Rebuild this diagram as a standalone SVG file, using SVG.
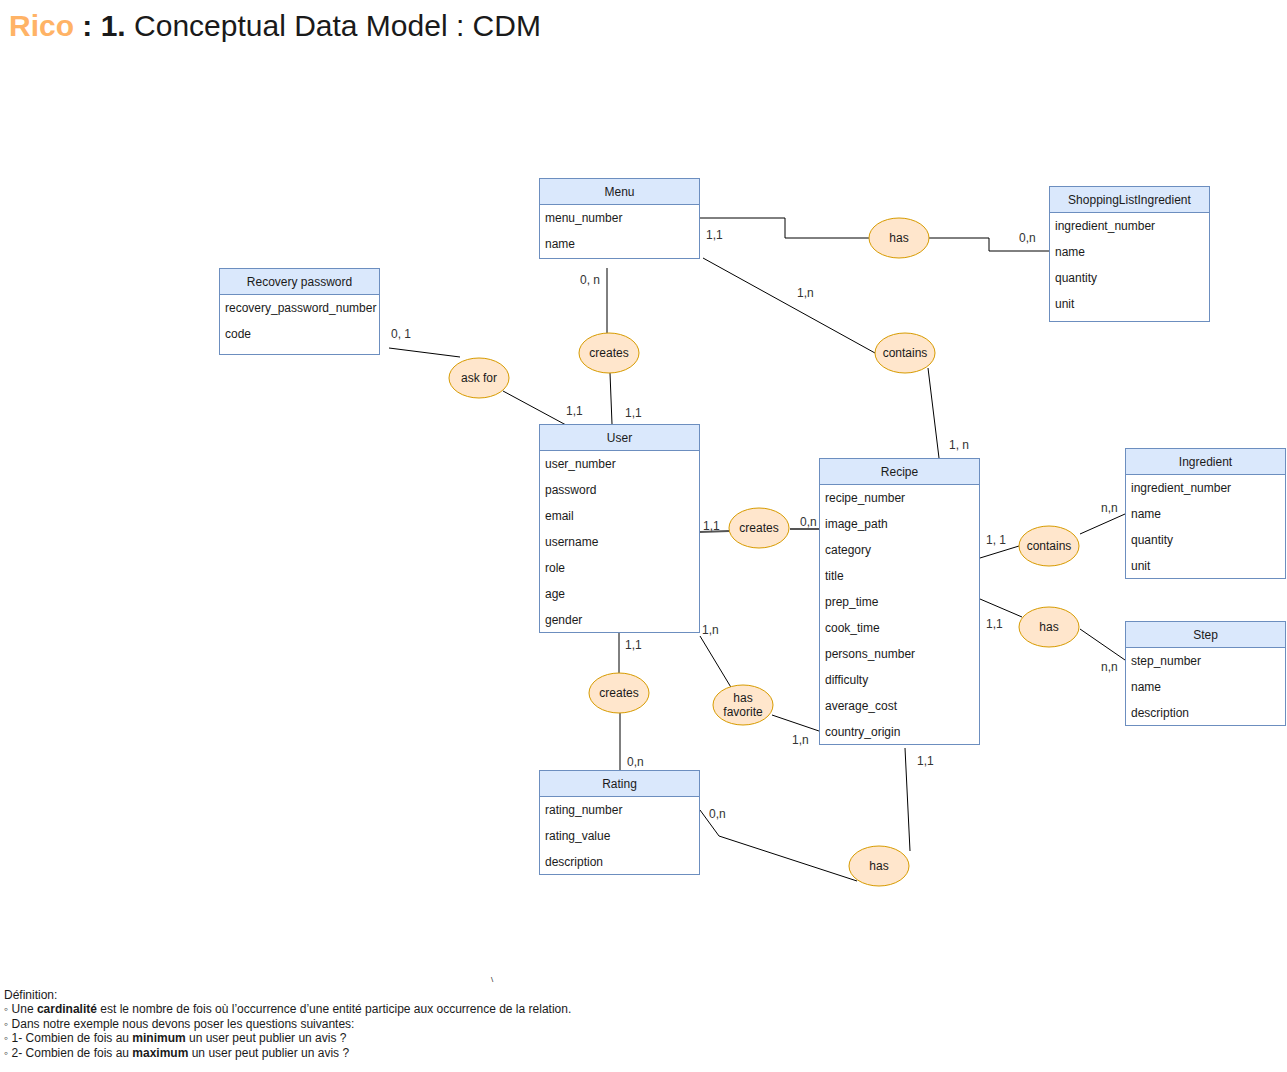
<svg xmlns="http://www.w3.org/2000/svg" width="1287" height="1072" viewBox="0 0 1287 1072">
<style>
text{font-family:"Liberation Sans",Arial,sans-serif;fill:#1a1a1a}
.hd{fill:#dae8fc;stroke:#6c8ebf;stroke-width:1}
.bd{fill:#ffffff;stroke:#6c8ebf;stroke-width:1}
.et{font-size:12px;text-anchor:middle}
.at{font-size:12px}
.rel{fill:#ffe6cc;stroke:#d79b00;stroke-width:1}
.rt{font-size:12px;text-anchor:middle}
.ln{fill:none;stroke:#000;stroke-width:1}
.lt{fill:none;stroke:#555;stroke-width:2}
.cd{font-size:12px;fill:#333}
.ft{font-size:12px}
</style>
<rect width="1287" height="1072" fill="#ffffff"/>
<text x="9" y="36" style="font-size:30px"><tspan style="font-weight:bold;fill:#ffb366">Rico</tspan><tspan style="font-weight:bold"> : 1.</tspan> Conceptual Data Model : CDM</text>

<g id="connectors">
<polyline class="ln" points="700,218 785,218 785,238 869,238"/>
<polyline class="ln" points="929,238 989,238 989,251 1049,251"/>
<line class="ln" x1="607" y1="268" x2="607" y2="333"/>
<line class="ln" x1="610" y1="373" x2="612" y2="424"/>
<line class="ln" x1="703" y1="258" x2="875" y2="353"/>
<line class="ln" x1="928" y1="368" x2="939" y2="458"/>
<line class="ln" x1="389" y1="348" x2="460" y2="357"/>
<line class="ln" x1="503" y1="391" x2="566" y2="425"/>
<line class="lt" x1="700" y1="532" x2="729" y2="531"/>
<line class="lt" x1="790" y1="529" x2="819" y2="529"/>
<line class="ln" x1="980" y1="558" x2="1019" y2="546"/>
<line class="ln" x1="1080" y1="534" x2="1125" y2="514"/>
<line class="ln" x1="980" y1="599" x2="1022" y2="617"/>
<line class="ln" x1="1080" y1="629" x2="1125" y2="660"/>
<line class="ln" x1="700" y1="636" x2="732" y2="689"/>
<line class="ln" x1="772" y1="715" x2="819" y2="731"/>
<line class="ln" x1="619" y1="633" x2="619" y2="673"/>
<line class="ln" x1="620" y1="713" x2="620" y2="770"/>
<polyline class="ln" points="700,810 719,836 857,881"/>
<line class="ln" x1="905" y1="748" x2="910" y2="851"/>
</g>

<g id="cardinalities">
<text class="cd" x="706" y="239">1,1</text>
<text class="cd" x="1019" y="242">0,n</text>
<text class="cd" x="580" y="284">0, n</text>
<text class="cd" x="797" y="297">1,n</text>
<text class="cd" x="391" y="338">0, 1</text>
<text class="cd" x="566" y="415">1,1</text>
<text class="cd" x="625" y="417">1,1</text>
<text class="cd" x="949" y="449">1, n</text>
<text class="cd" x="703" y="530">1,1</text>
<text class="cd" x="800" y="526">0,n</text>
<text class="cd" x="1101" y="512">n,n</text>
<text class="cd" x="986" y="544">1, 1</text>
<text class="cd" x="986" y="628">1,1</text>
<text class="cd" x="1101" y="671">n,n</text>
<text class="cd" x="702" y="634">1,n</text>
<text class="cd" x="625" y="649">1,1</text>
<text class="cd" x="792" y="744">1,n</text>
<text class="cd" x="627" y="766">0,n</text>
<text class="cd" x="709" y="818">0,n</text>
<text class="cd" x="917" y="765">1,1</text>
</g>

<g id="menu">
<rect class="bd" x="539.5" y="178.5" width="160" height="80"/>
<rect class="hd" x="539.5" y="178.5" width="160" height="26"/>
<text class="et" x="619.5" y="196">Menu</text>
<text class="at" x="545" y="222">menu_number</text>
<text class="at" x="545" y="248">name</text>
</g>

<g id="shoppinglistingredient">
<rect class="bd" x="1049.5" y="186.5" width="160" height="135"/>
<rect class="hd" x="1049.5" y="186.5" width="160" height="26"/>
<text class="et" x="1129.5" y="204">ShoppingListIngredient</text>
<text class="at" x="1055" y="230">ingredient_number</text>
<text class="at" x="1055" y="256">name</text>
<text class="at" x="1055" y="282">quantity</text>
<text class="at" x="1055" y="308">unit</text>
</g>

<g id="recovery-password">
<rect class="bd" x="219.5" y="268.5" width="160" height="86"/>
<rect class="hd" x="219.5" y="268.5" width="160" height="26"/>
<text class="et" x="299.5" y="286">Recovery password</text>
<text class="at" x="225" y="312">recovery_password_number</text>
<text class="at" x="225" y="338">code</text>
</g>

<g id="user">
<rect class="bd" x="539.5" y="424.5" width="160" height="208"/>
<rect class="hd" x="539.5" y="424.5" width="160" height="26"/>
<text class="et" x="619.5" y="442">User</text>
<text class="at" x="545" y="468">user_number</text>
<text class="at" x="545" y="494">password</text>
<text class="at" x="545" y="520">email</text>
<text class="at" x="545" y="546">username</text>
<text class="at" x="545" y="572">role</text>
<text class="at" x="545" y="598">age</text>
<text class="at" x="545" y="624">gender</text>
</g>

<g id="recipe">
<rect class="bd" x="819.5" y="458.5" width="160" height="286"/>
<rect class="hd" x="819.5" y="458.5" width="160" height="26"/>
<text class="et" x="899.5" y="476">Recipe</text>
<text class="at" x="825" y="502">recipe_number</text>
<text class="at" x="825" y="528">image_path</text>
<text class="at" x="825" y="554">category</text>
<text class="at" x="825" y="580">title</text>
<text class="at" x="825" y="606">prep_time</text>
<text class="at" x="825" y="632">cook_time</text>
<text class="at" x="825" y="658">persons_number</text>
<text class="at" x="825" y="684">difficulty</text>
<text class="at" x="825" y="710">average_cost</text>
<text class="at" x="825" y="736">country_origin</text>
</g>

<g id="ingredient">
<rect class="bd" x="1125.5" y="448.5" width="160" height="130"/>
<rect class="hd" x="1125.5" y="448.5" width="160" height="26"/>
<text class="et" x="1205.5" y="466">Ingredient</text>
<text class="at" x="1131" y="492">ingredient_number</text>
<text class="at" x="1131" y="518">name</text>
<text class="at" x="1131" y="544">quantity</text>
<text class="at" x="1131" y="570">unit</text>
</g>

<g id="step">
<rect class="bd" x="1125.5" y="621.5" width="160" height="104"/>
<rect class="hd" x="1125.5" y="621.5" width="160" height="26"/>
<text class="et" x="1205.5" y="639">Step</text>
<text class="at" x="1131" y="665">step_number</text>
<text class="at" x="1131" y="691">name</text>
<text class="at" x="1131" y="717">description</text>
</g>

<g id="rating">
<rect class="bd" x="539.5" y="770.5" width="160" height="104"/>
<rect class="hd" x="539.5" y="770.5" width="160" height="26"/>
<text class="et" x="619.5" y="788">Rating</text>
<text class="at" x="545" y="814">rating_number</text>
<text class="at" x="545" y="840">rating_value</text>
<text class="at" x="545" y="866">description</text>
</g>

<g id="rel-menu-has">
<ellipse class="rel" cx="899" cy="238" rx="30" ry="20"/>
<text class="rt" x="899" y="242">has</text>
</g>
<g id="rel-menu-creates">
<ellipse class="rel" cx="609" cy="353" rx="30" ry="20"/>
<text class="rt" x="609" y="357">creates</text>
</g>
<g id="rel-menu-contains">
<ellipse class="rel" cx="905" cy="353" rx="30" ry="20"/>
<text class="rt" x="905" y="357">contains</text>
</g>
<g id="rel-ask-for">
<ellipse class="rel" cx="479" cy="378" rx="30" ry="20"/>
<text class="rt" x="479" y="382">ask for</text>
</g>
<g id="rel-user-creates-recipe">
<ellipse class="rel" cx="759" cy="528" rx="30" ry="20"/>
<text class="rt" x="759" y="532">creates</text>
</g>
<g id="rel-recipe-contains">
<ellipse class="rel" cx="1049" cy="546" rx="30" ry="20"/>
<text class="rt" x="1049" y="550">contains</text>
</g>
<g id="rel-recipe-has-step">
<ellipse class="rel" cx="1049" cy="627" rx="30" ry="20"/>
<text class="rt" x="1049" y="631">has</text>
</g>
<g id="rel-user-creates-rating">
<ellipse class="rel" cx="619" cy="693" rx="30" ry="20"/>
<text class="rt" x="619" y="697">creates</text>
</g>
<g id="rel-has-favorite">
<ellipse class="rel" cx="743" cy="705" rx="30" ry="20"/>
<text class="rt" x="743" y="702">has</text>
<text class="rt" x="743" y="716">favorite</text>
</g>
<g id="rel-rating-has">
<ellipse class="rel" cx="879" cy="866" rx="30" ry="20"/>
<text class="rt" x="879" y="870">has</text>
</g>

<text x="491" y="982" style="font-size:8px">\</text>
<g id="definition">
<text class="ft" x="4" y="999">Définition:</text>
<text class="ft" x="4" y="1013">◦ Une <tspan font-weight="bold">cardinalité</tspan> est le nombre de fois où l’occurrence d’une entité participe aux occurrence de la relation.</text>
<text class="ft" x="4" y="1028">◦ Dans notre exemple nous devons poser les questions suivantes:</text>
<text class="ft" x="4" y="1042">◦ 1- Combien de fois au <tspan font-weight="bold">minimum</tspan> un user peut publier un avis ?</text>
<text class="ft" x="4" y="1057">◦ 2- Combien de fois au <tspan font-weight="bold">maximum</tspan> un user peut publier un avis ?</text>
</g>
</svg>
